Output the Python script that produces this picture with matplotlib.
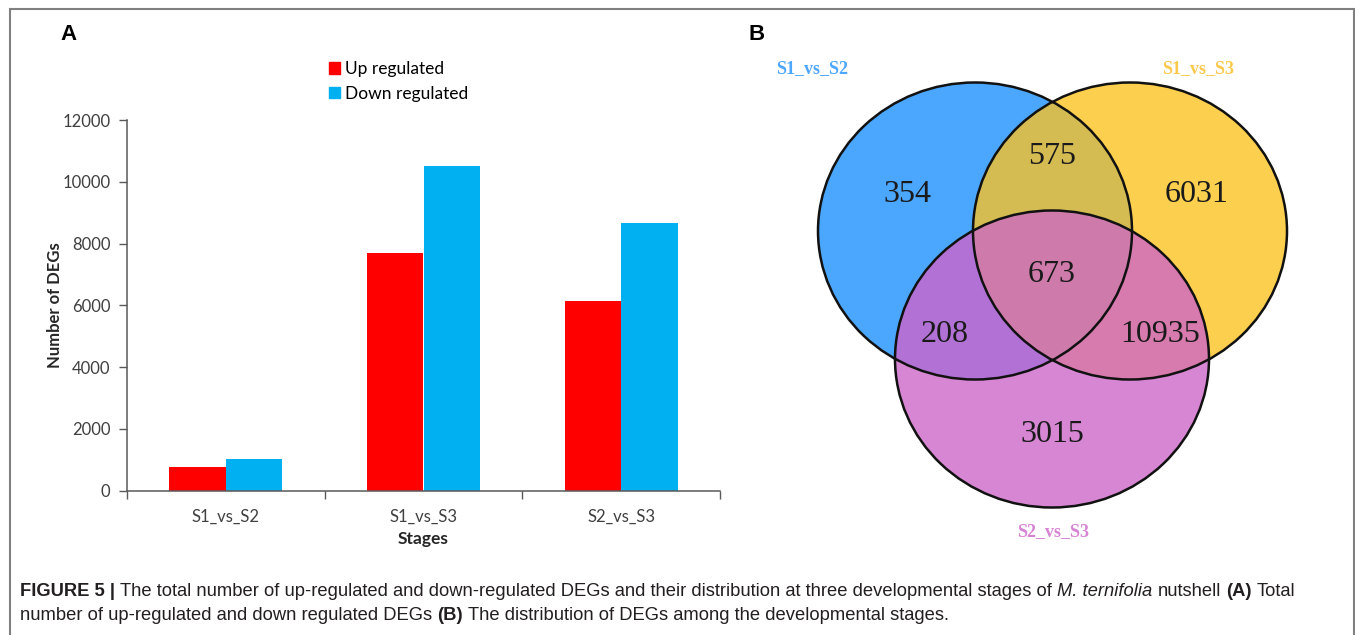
import numpy as np
import matplotlib
matplotlib.use("Agg")
import matplotlib.pyplot as plt
from matplotlib.patches import Ellipse, Polygon, Patch

# ---- bar chart data (panel A) ----
stages = ["S1_vs_S2", "S1_vs_S3", "S2_vs_S3"]
up_regulated = [770, 7700, 6150]
down_regulated = [1040, 10500, 8650]
y_ticks = [0, 2000, 4000, 6000, 8000, 10000, 12000]

# ---- venn data (panel B) ----
set_names = ["S1_vs_S2", "S1_vs_S3", "S2_vs_S3"]
set_colors = ["#4DA6FF", "#FBC94C", "#D783D4"]
# region counts keyed by membership (S1_vs_S2, S1_vs_S3, S2_vs_S3)
region_keys = ["100", "010", "001", "110", "101", "011", "111"]
region_counts = [354, 6031, 3015, 575, 208, 10935, 673]
region_colors = ["#4BA6FE", "#FCCF4E", "#D786D3", "#D4BC52", "#B171D5", "#D77AAE", "#CE7BAB"]

W_PX, H_PX = 1355, 635
fig = plt.figure(figsize=(W_PX / 100, H_PX / 100), dpi=100)

# full-figure pixel canvas for the venn, frame and caption
cv = fig.add_axes([0, 0, 1, 1], zorder=0)
cv.set_xlim(0, W_PX)
cv.set_ylim(H_PX, 0)
cv.axis("off")

# ---------------- panel A ----------------
ax = fig.add_axes([127 / W_PX, 1 - 490.7 / H_PX, 593 / W_PX, 370.7 / H_PX], zorder=2)
ax.patch.set_alpha(0)
x = np.arange(len(stages))
bw = 0.285
ax.bar(x - bw / 2, up_regulated, bw, color="#FF0000", label="Up regulated")
ax.bar(x + bw / 2, down_regulated, bw, color="#00B0F0", label="Down regulated")
ax.set_xlim(-0.5, len(stages) - 0.5)
ax.set_ylim(0, 12000)
ax.set_yticks(y_ticks)
ax.set_yticklabels([str(v) for v in y_ticks], fontfamily="Lato", fontsize=12, color="#404040")
ax.set_xticks(x)
ax.set_xticklabels(stages, fontfamily="Lato", fontsize=12, color="#404040")
ax.set_xticks(np.arange(-0.5, len(stages)), minor=True)
ax.tick_params(axis="x", which="major", length=0, pad=13)
ax.tick_params(axis="x", which="minor", length=6, width=1, color="#595959")
ax.tick_params(axis="y", length=6, width=1, color="#595959", pad=6)
for s in ["top", "right"]:
    ax.spines[s].set_visible(False)
for s in ["left", "bottom"]:
    ax.spines[s].set_color("#595959")
    ax.spines[s].set_linewidth(1.1)
ax.set_ylabel("Number of DEGs", fontfamily="Lato", fontweight="bold", fontsize=12, color="#262626")
ax.yaxis.set_label_coords(-0.108, 0.5)
ax.set_xlabel("Stages", fontfamily="Lato", fontweight="bold", fontsize=12.5, color="#262626")
ax.xaxis.set_label_coords(0.5, -0.108)

handles = [Patch(color="#FF0000"), Patch(color="#00B0F0")]
fig.legend(handles, ["Up regulated", "Down regulated"], loc="upper left",
           bbox_to_anchor=(329 / W_PX, 1 - 61 / H_PX), frameon=False,
           prop={"family": "Lato", "size": 12.5}, handlelength=0.63, handleheight=0.63,
           handletextpad=0.3, labelspacing=0.5, borderpad=0, borderaxespad=0)

cv.text(60, 35, "A", fontfamily="Liberation Sans", fontweight="bold", fontsize=16,
        ha="left", va="center")
cv.text(748, 35, "B", fontfamily="Liberation Sans", fontweight="bold", fontsize=16,
        ha="left", va="center")

# ---------------- panel B ----------------
EW, EH = 314, 297
centers = [(975, 231), (1130, 231), (1052, 359)]


def ellipse_pts(c, n=1440):
    t = np.linspace(0, 2 * np.pi, n, endpoint=False)
    return np.column_stack([c[0] + EW / 2 * np.cos(t), c[1] + EH / 2 * np.sin(t)])


def inside(pts, c):
    return ((pts[:, 0] - c[0]) / (EW / 2)) ** 2 + ((pts[:, 1] - c[1]) / (EH / 2)) ** 2 <= 1 + 1e-9


def intersection(cs):
    # intersection of convex ellipses is convex: collect boundary points and sort by angle
    pts = []
    for i, c in enumerate(cs):
        p = ellipse_pts(c)
        mask = np.ones(len(p), bool)
        for j, o in enumerate(cs):
            if j != i:
                mask &= inside(p, o)
        pts.append(p[mask])
    pts = np.vstack(pts)
    m = pts.mean(axis=0)
    ang = np.arctan2(pts[:, 1] - m[1], pts[:, 0] - m[0])
    return pts[np.argsort(ang)]


region_color = dict(zip(region_keys, region_colors))
for i, c in enumerate(centers):
    key = "".join("1" if k == i else "0" for k in range(3))
    cv.add_patch(Ellipse(c, EW, EH, facecolor=region_color[key], edgecolor="none", zorder=1))
for key in ["110", "101", "011", "111"]:
    members = [centers[k] for k in range(3) if key[k] == "1"]
    cv.add_patch(Polygon(intersection(members), closed=True, facecolor=region_color[key],
                         edgecolor="none", zorder=2))
for c in centers:
    cv.add_patch(Ellipse(c, EW, EH, facecolor="none", edgecolor="#111111", lw=1.8, zorder=3))

label_pos = {"100": (907, 194), "010": (1197, 194), "001": (1052, 435),
             "110": (1052, 157), "101": (945, 334), "011": (1160, 334), "111": (1052, 275)}
for key, cnt in zip(region_keys, region_counts):
    cv.text(*label_pos[key], str(cnt), fontfamily="Liberation Serif", fontsize=23,
            ha="center", va="center", color="#1a1a1a", zorder=4)

name_pos = [(812, 69), (1198, 69), (1053, 532)]
for name, col, pos in zip(set_names, set_colors, name_pos):
    cv.text(*pos, name, fontfamily="Liberation Serif", fontweight="bold", fontsize=13,
            color=col, ha="center", va="center", zorder=4)

# ---------------- frame ----------------
fc = "#808080"
cv.plot([9.5, 1353.5], [8.5, 8.5], color=fc, lw=1.5, solid_capstyle="butt")
cv.plot([9.5, 9.5], [8.5, H_PX], color=fc, lw=1.5)
cv.plot([1353.5, 1353.5], [8.5, H_PX], color=fc, lw=1.5)

# ---------------- caption ----------------
cap_family = ["Liberation Sans Narrow", "Liberation Sans"]
cap_size = 13.2
cap_color = "#231F20"
line1 = [("FIGURE 5 |", "bold", "normal"),
         ("The total number of up-regulated and down-regulated DEGs and their distribution at three developmental stages of", "normal", "normal"),
         ("M. ternifolia", "normal", "italic"),
         ("nutshell", "normal", "normal"),
         ("(A)", "bold", "normal"),
         ("Total", "normal", "normal")]
line2 = [("number of up-regulated and down regulated DEGs", "normal", "normal"),
         ("(B)", "bold", "normal"),
         ("The distribution of DEGs among the developmental stages.", "normal", "normal")]

renderer = fig.canvas.get_renderer()


def text_width(t):
    bb = t.get_window_extent(renderer=renderer)
    return bb.width


probe_a = cv.text(0, 0, "a a", fontfamily=cap_family, fontsize=cap_size)
probe_b = cv.text(0, 0, "aa", fontfamily=cap_family, fontsize=cap_size)
space_w = text_width(probe_a) - text_width(probe_b)
probe_a.remove()
probe_b.remove()

for segs, yline in [(line1, 591), (line2, 616)]:
    xpos = 20
    for txt, weight, style in segs:
        t = cv.text(xpos, yline, txt, fontfamily=cap_family, fontsize=cap_size,
                    fontweight=weight, fontstyle=style, color=cap_color,
                    ha="left", va="center")
        xpos += text_width(t) + space_w

fig.savefig("out.png", dpi=100)
